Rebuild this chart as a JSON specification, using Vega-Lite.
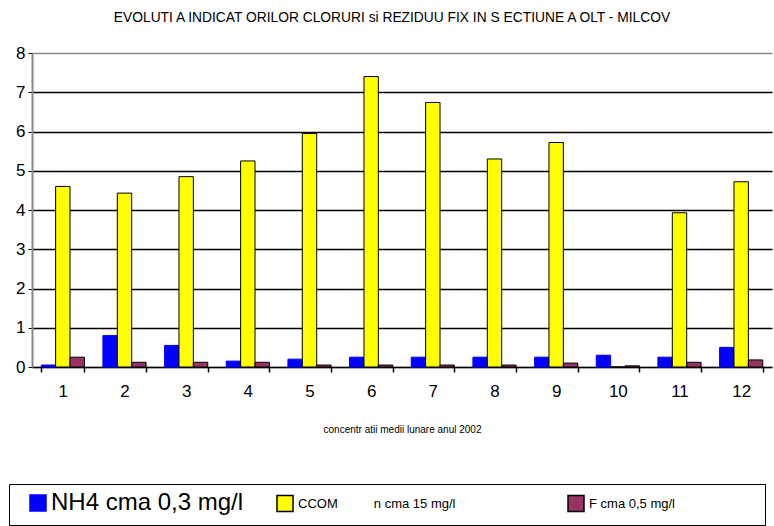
{
  "$schema": "https://vega.github.io/schema/vega-lite/v6.json",
  "width": 740,
  "height": 314,
  "autosize": {"type": "none"},
  "padding": {"left": 32, "top": 53, "right": 2, "bottom": 159},
  "background": "white",
  "config": {
    "font": "Liberation Sans",
    "view": {"stroke": null}
  },
  "title": {
    "text": "EVOLUTI A INDICAT ORILOR CLORURI si REZIDUU FIX IN S ECTIUNE A OLT - MILCOV",
    "font": "Liberation Sans",
    "fontSize": 13.8,
    "fontWeight": "normal",
    "color": "black",
    "anchor": "middle",
    "dx": -10,
    "offset": 19
  },
  "data": {
    "values": [
      {"month": 1, "series": "NH4 cma 0,3 mg/l", "value": 0.05},
      {"month": 1, "series": "CCOM", "value": 4.6},
      {"month": 1, "series": "F cma 0,5 mg/l", "value": 0.25},
      {"month": 2, "series": "NH4 cma 0,3 mg/l", "value": 0.8},
      {"month": 2, "series": "CCOM", "value": 4.43},
      {"month": 2, "series": "F cma 0,5 mg/l", "value": 0.12},
      {"month": 3, "series": "NH4 cma 0,3 mg/l", "value": 0.55},
      {"month": 3, "series": "CCOM", "value": 4.85},
      {"month": 3, "series": "F cma 0,5 mg/l", "value": 0.12},
      {"month": 4, "series": "NH4 cma 0,3 mg/l", "value": 0.15},
      {"month": 4, "series": "CCOM", "value": 5.25},
      {"month": 4, "series": "F cma 0,5 mg/l", "value": 0.12},
      {"month": 5, "series": "NH4 cma 0,3 mg/l", "value": 0.2},
      {"month": 5, "series": "CCOM", "value": 5.95},
      {"month": 5, "series": "F cma 0,5 mg/l", "value": 0.05},
      {"month": 6, "series": "NH4 cma 0,3 mg/l", "value": 0.25},
      {"month": 6, "series": "CCOM", "value": 7.4},
      {"month": 6, "series": "F cma 0,5 mg/l", "value": 0.05},
      {"month": 7, "series": "NH4 cma 0,3 mg/l", "value": 0.25},
      {"month": 7, "series": "CCOM", "value": 6.74},
      {"month": 7, "series": "F cma 0,5 mg/l", "value": 0.05},
      {"month": 8, "series": "NH4 cma 0,3 mg/l", "value": 0.25},
      {"month": 8, "series": "CCOM", "value": 5.3},
      {"month": 8, "series": "F cma 0,5 mg/l", "value": 0.05},
      {"month": 9, "series": "NH4 cma 0,3 mg/l", "value": 0.25},
      {"month": 9, "series": "CCOM", "value": 5.72},
      {"month": 9, "series": "F cma 0,5 mg/l", "value": 0.1},
      {"month": 10, "series": "NH4 cma 0,3 mg/l", "value": 0.3},
      {"month": 10, "series": "CCOM", "value": 0},
      {"month": 10, "series": "F cma 0,5 mg/l", "value": 0.03},
      {"month": 11, "series": "NH4 cma 0,3 mg/l", "value": 0.25},
      {"month": 11, "series": "CCOM", "value": 3.93},
      {"month": 11, "series": "F cma 0,5 mg/l", "value": 0.12},
      {"month": 12, "series": "NH4 cma 0,3 mg/l", "value": 0.5},
      {"month": 12, "series": "CCOM", "value": 4.72},
      {"month": 12, "series": "F cma 0,5 mg/l", "value": 0.18}
    ]
  },
  "mark": {"type": "bar", "strokeWidth": 1},
  "encoding": {
    "x": {
      "field": "month",
      "type": "ordinal",
      "scale": {"paddingInner": 0.3, "paddingOuter": 0.15},
      "axis": {
        "title": "concentr atii medii lunare anul 2002",
        "titleFontSize": 10,
        "titleFontWeight": "normal",
        "titleColor": "black",
        "titlePadding": 25,
        "labelAngle": 0,
        "labelFontSize": 17,
        "labelColor": "black",
        "labelPadding": 11,
        "tickBand": "extent",
        "tickSize": 5,
        "tickColor": "black",
        "tickWidth": 1.5,
        "domainColor": "black",
        "domainWidth": 1.5
      }
    },
    "xOffset": {
      "field": "series",
      "type": "nominal",
      "sort": ["NH4 cma 0,3 mg/l", "CCOM", "F cma 0,5 mg/l"],
      "scale": {"paddingInner": 0, "paddingOuter": 0}
    },
    "y": {
      "field": "value",
      "type": "quantitative",
      "scale": {"domain": [0, 8], "nice": false},
      "axis": {
        "title": null,
        "values": [0, 1, 2, 3, 4, 5, 6, 7, 8],
        "labelFontSize": 17,
        "labelColor": "black",
        "labelPadding": 3,
        "tickSize": 4,
        "tickColor": "black",
        "domainColor": "#888888",
        "domainWidth": 2,
        "grid": true,
        "gridColor": {"condition": {"test": "datum.value == 8 || datum.value == 0", "value": "#888888"}, "value": "black"},
        "gridWidth": 1.5
      }
    },
    "stroke": {
      "condition": {"test": "datum.series == 'NH4 cma 0,3 mg/l'", "value": "#0000FF"},
      "value": "black"
    },
    "color": {
      "field": "series",
      "type": "nominal",
      "sort": ["NH4 cma 0,3 mg/l", "CCOM", "F cma 0,5 mg/l"],
      "scale": {
        "domain": ["NH4 cma 0,3 mg/l", "CCOM", "F cma 0,5 mg/l"],
        "range": ["#0000FF", "#FFFF00", "#993366"]
      },
      "legend": {
        "title": null,
        "orient": "none",
        "legendX": -23,
        "legendY": 431,
        "direction": "horizontal",
        "fillColor": "white",
        "strokeColor": "black",
        "padding": 10,
        "symbolOffset": 10,
        "symbolType": "square",
        "symbolSize": 256,
        "symbolOpacity": 1,
        "symbolStrokeColor": {"expr": "datum.label == 'NH4 cma 0,3 mg/l' ? '#0000FF' : 'black'"},
        "labelExpr": "datum.label == 'CCOM' ? 'CCOM\u00a0\u00a0\u00a0\u00a0\u00a0\u00a0\u00a0\u00a0\u00a0\u00a0n cma 15 mg/l\u00a0\u00a0\u00a0\u00a0\u00a0\u00a0\u00a0\u00a0\u00a0\u00a0\u00a0\u00a0\u00a0\u00a0\u00a0\u00a0\u00a0\u00a0\u00a0\u00a0\u00a0\u00a0\u200b' : datum.label == 'F cma 0,5 mg/l' ? 'F cma 0,5 mg/l\u00a0\u00a0\u00a0\u00a0\u00a0\u00a0\u00a0\u00a0\u00a0\u00a0\u00a0\u00a0\u00a0\u00a0\u00a0\u00a0\u00a0\u00a0\u00a0\u00a0\u00a0\u00a0\u200b' : datum.label",
        "labelFontSize": {"expr": "datum.label == 'NH4 cma 0,3 mg/l' ? 24 : 13"},
        "labelColor": "black",
        "labelLimit": 500,
        "columnPadding": 22
      }
    }
  }
}
